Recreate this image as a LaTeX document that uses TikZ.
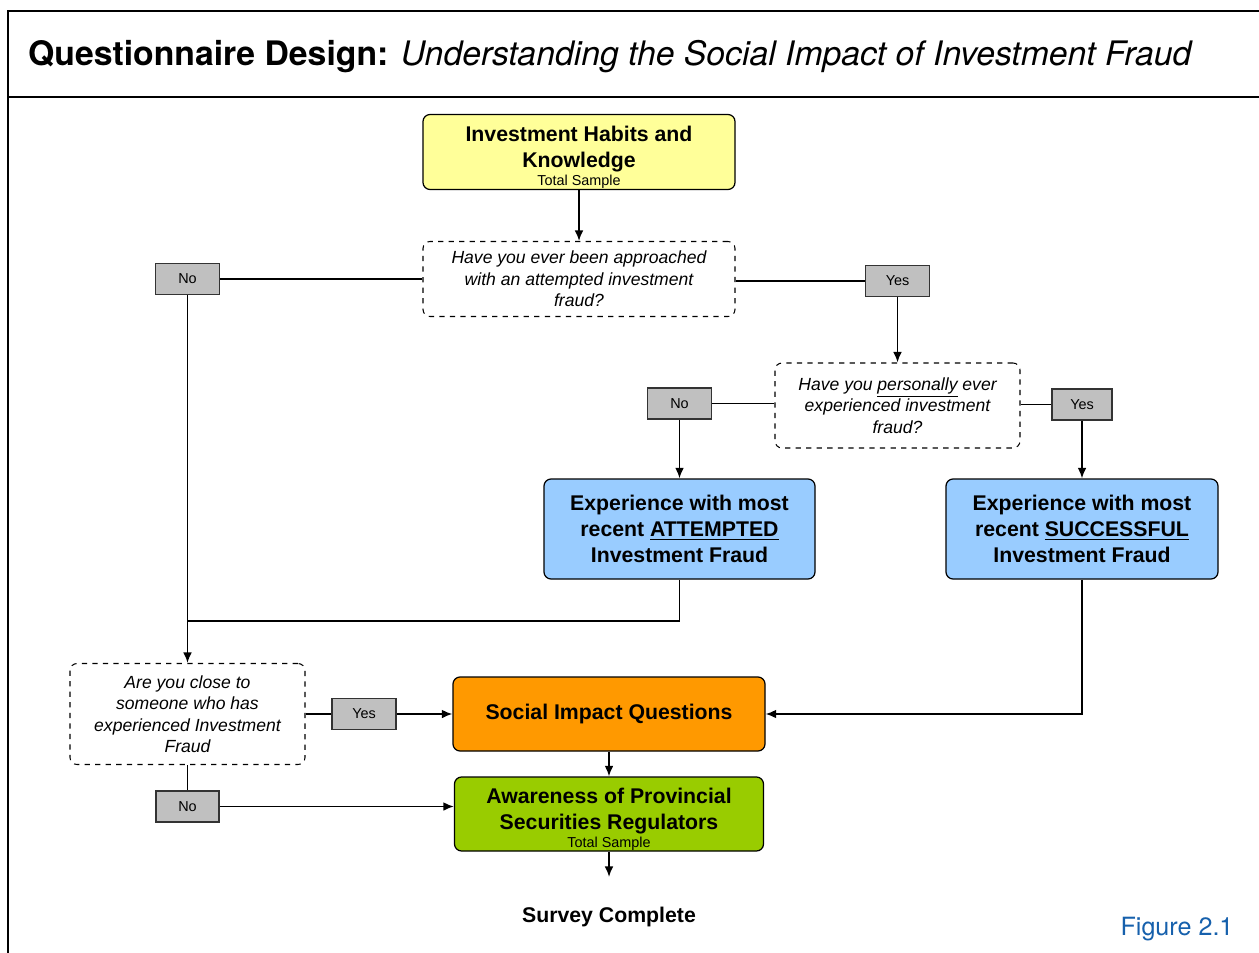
\documentclass[tikz,border=0pt]{standalone}
\usepackage{fontspec}
\setmainfont{Liberation Sans}
\newfontfamily\headfont{TeX Gyre Heros}
\usepackage{tikz}
\usetikzlibrary{shapes.geometric,arrows,arrows.meta,shapes,positioning,calc}
\usepackage{xcolor}
\definecolor{habyellow}{RGB}{255,255,153}
\definecolor{expblue}{RGB}{153,204,255}
\definecolor{socorange}{RGB}{255,153,0}
\definecolor{awgreen}{RGB}{153,204,0}
\definecolor{optgray}{RGB}{192,192,192}
\definecolor{figblue}{RGB}{22,96,172}

\tikzset{
  mainbox/.style={rectangle, rounded corners=4pt, draw=black, line width=0.7pt, align=center, font=\bfseries\fontsize{12.1}{15}\selectfont},
  samplebox/.style={mainbox, inner ysep=0pt, text height=40pt, font=\bfseries\fontsize{12.1}{14.5}\selectfont},
  askbox/.style={rectangle, rounded corners=4pt, draw=black, dashed, line width=0.6pt, align=center, font=\itshape\fontsize{10}{12.2}\selectfont},
  optbox/.style={rectangle, draw=black!80, line width=0.7pt, fill=optgray, minimum width=1.28cm, minimum height=0.62cm, font=\fontsize{8.2}{9}\selectfont},
  link/.style={line width=1pt},
  >={Latex[length=6pt,width=5pt]}
}
\newcommand{\sample}{\\[-4pt]{\mdseries\fontsize{8.2}{9}\selectfont Total Sample}}

\begin{document}
\begin{tikzpicture}
\useasboundingbox (0,0) rectangle (25.18,-19.06);
% frame and title
\draw [line width=1.1pt] (25.18,-0.22) -- (0.16,-0.22) -- (0.16,-19.06);
\draw [line width=1.1pt] (0.16,-1.94) -- (25.18,-1.94);
\node (title) [anchor=west] at (0.44,-1.14) {\headfont\fontsize{19.2}{22}\selectfont\textbf{Questionnaire Design:} \textit{Understanding the Social Impact of Investment Fraud}};

% boxes
\node (hab) [samplebox, fill=habyellow, minimum width=6.24cm, minimum height=1.5cm] at (11.58,-3.04) {Investment Habits and\\Knowledge\sample};
\node (q1) [askbox, minimum width=6.24cm, minimum height=1.5cm] at (11.58,-5.58) {Have you ever been approached\\with an attempted investment\\fraud?};
\node (no1) [optbox] at (3.75,-5.58) {No};
\node (yes1) [optbox] at (17.95,-5.62) {Yes};
\node (q2) [askbox, minimum width=4.9cm, minimum height=1.7cm] at (17.95,-8.11) {Have you \underline{personally} ever\\experienced investment\\fraud?};
\node (no2) [optbox] at (13.59,-8.07) {No};
\node (yes2) [optbox, minimum width=1.2cm] at (21.64,-8.09) {Yes};
\node (att) [mainbox, fill=expblue, minimum width=5.42cm, minimum height=2cm] at (13.59,-10.58) {Experience with most\\recent \underline{ATTEMPTED}\\Investment Fraud};
\node (suc) [mainbox, fill=expblue, minimum width=5.44cm, minimum height=2cm] at (21.64,-10.58) {Experience with most\\recent \underline{SUCCESSFUL}\\Investment Fraud};
\node (q3) [askbox, minimum width=4.7cm, minimum height=2.02cm] at (3.75,-14.28) {Are you close to\\someone who has\\experienced Investment\\Fraud};
\node (yes3) [optbox] at (7.28,-14.28) {Yes};
\node (soc) [mainbox, fill=socorange, minimum width=6.24cm, minimum height=1.48cm] at (12.18,-14.28) {Social Impact Questions};
\node (no3) [optbox, minimum width=1.26cm] at (3.75,-16.13) {No};
\node (aw) [samplebox, fill=awgreen, minimum width=6.18cm, minimum height=1.48cm] at (12.18,-16.28) {Awareness of Provincial\\Securities Regulators\sample};
\node (done) [font=\bfseries\fontsize{12.1}{14}\selectfont] at (12.18,-18.34) {Survey Complete};
\node (fig) [font=\headfont\fontsize{14.3}{16}\selectfont, text=figblue] at (23.54,-18.58) {Figure 2.1};

\coordinate (join) at (3.75,-12.42);
\coordinate (end) at (12.18,-17.54);

% connectors
\draw [link,->] (hab) -- (q1);
\draw [link] (q1.west) -- (no1.east);
\draw [link,->] (no1) -- (q3);
\draw [link] (q1.east |- yes1) -- (yes1.west);
\draw [link,->] (yes1) -- (q2);
\draw [link] (q2.west |- no2) -- (no2.east);
\draw [link,->] (no2) -- (att);
\draw [link] (q2.east |- yes2) -- (yes2.west);
\draw [link,->] (yes2) -- (suc);
\draw [link] (att.south) |- (join);
\draw [link,->] (suc.south) |- (soc.east);
\draw [link] (q3.east) -- (yes3.west);
\draw [link,->] (yes3.east) -- (soc.west);
\draw [link] (q3) -- (no3);
\draw [link,->] (no3.east) -- (no3.east -| aw.west);
\draw [link,->] (soc) -- (aw);
\draw [link,->] (aw) -- (end);
\end{tikzpicture}
\end{document}
